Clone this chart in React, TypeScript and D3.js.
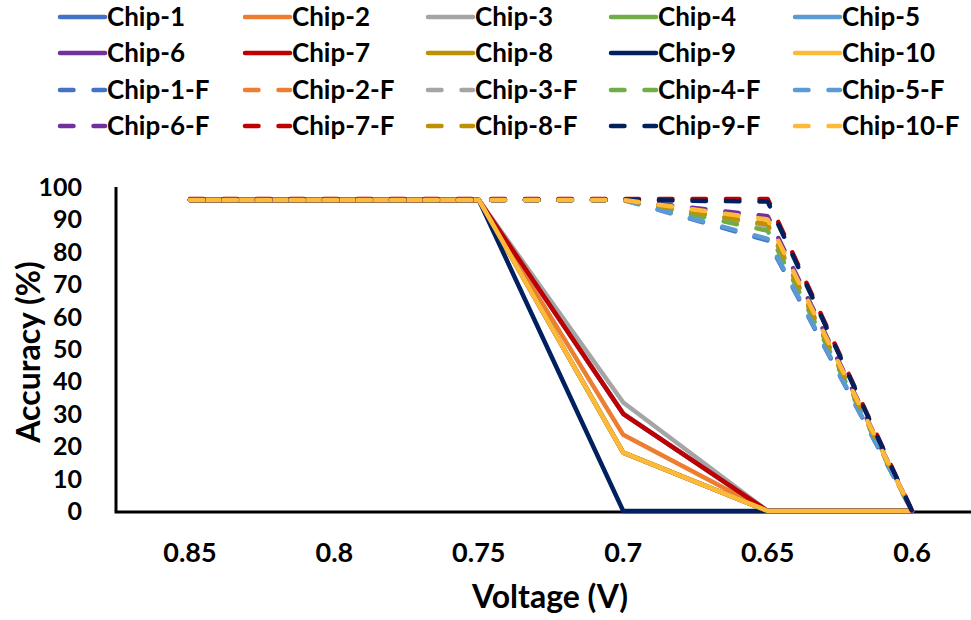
import React from "react";
import * as d3 from "d3";

const voltages = [0.85, 0.8, 0.75, 0.7, 0.65, 0.6];
const chipNames = ["Chip-1", "Chip-2", "Chip-3", "Chip-4", "Chip-5", "Chip-6", "Chip-7", "Chip-8", "Chip-9", "Chip-10"];
const chipColors = ["#4472C4", "#ED7D31", "#A5A5A5", "#70AD47", "#5B9BD5", "#7030A0", "#C00000", "#BF9000", "#002060", "#FFB938"];

// solid series (Chip-n)
const chip1 = [96, 96, 96, 30, 0, 0];
const chip2 = [96, 96, 96, 23.5, 0, 0];
const chip3 = [96, 96, 96, 33.5, 0, 0];
const chip4 = [96, 96, 96, 18, 0, 0];
const chip5 = [96, 96, 96, 30, 0, 0];
const chip6 = [96, 96, 96, 18, 0, 0];
const chip7 = [96, 96, 96, 30, 0, 0];
const chip8 = [96, 96, 96, 18, 0, 0];
const chip9 = [96, 96, 96, 0, 0, 0];
const chip10 = [96, 96, 96, 18, 0, 0];

// dashed series (Chip-n-F)
const chip1F = [96, 96, 96, 96, 83.5, 0];
const chip2F = [96, 96, 96, 96, 88, 0];
const chip3F = [96, 96, 96, 96, 88, 0];
const chip4F = [96, 96, 96, 96, 86.5, 0];
const chip5F = [96, 96, 96, 96, 84, 0];
const chip6F = [96, 96, 96, 96, 91, 0];
const chip7F = [96.3, 96.3, 96.3, 96.3, 96.3, 0];
const chip8F = [96, 96, 96, 96, 88.5, 0];
const chip9F = [96, 96, 96, 96, 95.5, 0];
const chip10F = [96, 96, 96, 96, 90, 0];

const solidValues = [chip1, chip2, chip3, chip4, chip5, chip6, chip7, chip8, chip9, chip10];
const dashedValues = [chip1F, chip2F, chip3F, chip4F, chip5F, chip6F, chip7F, chip8F, chip9F, chip10F];

const xTicks = [0.85, 0.8, 0.75, 0.7, 0.65, 0.6];
const yTicks = [0, 10, 20, 30, 40, 50, 60, 70, 80, 90, 100];

const W = 971;
const H = 620;
const FONT = "Lato, 'Open Sans', sans-serif";

export default function App() {
  const left = 116;
  const right = 971;
  const top = 187;
  const bottom = 511;

  const x = d3.scaleLinear().domain([0.8756, 0.5796]).range([left, right]);
  const y = d3.scaleLinear().domain([0, 100]).range([bottom, top]);

  const line = d3
    .line<number>()
    .x((_, i) => x(voltages[i]))
    .y((d) => y(d));

  const series = [
    ...solidValues.map((v, i) => ({ name: chipNames[i], color: chipColors[i], values: v, dashed: false })),
    ...dashedValues.map((v, i) => ({ name: chipNames[i] + "-F", color: chipColors[i], values: v, dashed: true })),
  ];

  const dash = "13.5 20";
  const sw = 4.5;

  const legendCols = [60, 245, 428, 611, 795];
  const legendRows = [17, 53, 90, 126];
  const sampleLen = 45;

  return (
    <svg
      width={W}
      height={H}
      style={{ position: "absolute", left: 0, top: 0, background: "#fff" }}
      fontFamily={FONT}
    >
      <rect x={0} y={0} width={W} height={H} fill="#fff" />
      {/* legend */}
      {series.map((s, i) => {
        const col = i % 5;
        const row = Math.floor(i / 5);
        const lx = legendCols[col];
        const ly = legendRows[row];
        return (
          <g key={"lg" + i}>
            <line
              x1={lx}
              x2={lx + sampleLen}
              y1={ly}
              y2={ly}
              stroke={s.color}
              strokeWidth={sw}
              strokeLinecap="round"
              strokeDasharray={s.dashed ? dash : undefined}
            />
            <text x={lx + 47} y={ly + 9} fontSize={26} fontWeight={700} fill="#000">
              {s.name}
            </text>
          </g>
        );
      })}

      {/* axes */}
      <line x1={left} x2={left} y1={top} y2={bottom} stroke="#000" strokeWidth={3} />
      <line x1={left - 1.5} x2={right} y1={bottom + 1} y2={bottom + 1} stroke="#000" strokeWidth={3} />

      {/* series */}
      {series.map((s, i) => (
        <path
          key={"s" + i}
          d={line(s.values) || ""}
          fill="none"
          stroke={s.color}
          strokeWidth={sw}
          strokeLinejoin="round"
          strokeLinecap="round"
          strokeDasharray={s.dashed ? dash : undefined}
        />
      ))}

      {yTicks.map((t) => (
        <text key={"yt" + t} x={82} y={y(t) + 9} textAnchor="end" fontSize={25} fontWeight={700} fill="#000">
          {t}
        </text>
      ))}
      {xTicks.map((t) => (
        <text key={"xt" + t} x={x(t)} y={562} textAnchor="middle" fontSize={27} fontWeight={700} fill="#000">
          {String(t)}
        </text>
      ))}

      <text x={550} y={608} textAnchor="middle" fontSize={32} fontWeight={700} fill="#000">
        Voltage (V)
      </text>
      <text
        transform={`translate(40, ${(top + bottom) / 2 + 3}) rotate(-90)`}
        textAnchor="middle"
        fontSize={32}
        fontWeight={700}
        fill="#000"
      >
        Accuracy (%)
      </text>
    </svg>
  );
}
